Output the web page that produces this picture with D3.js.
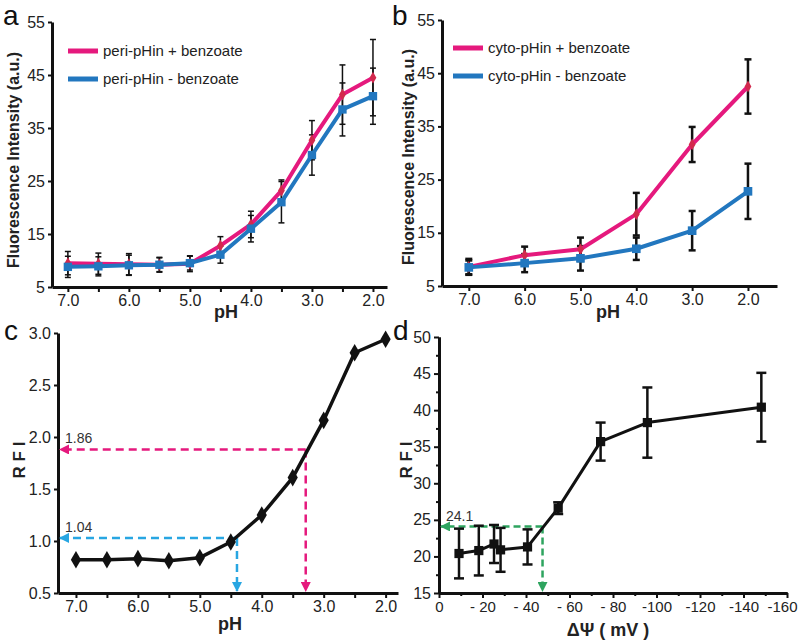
<!DOCTYPE html>
<html>
<head>
<meta charset="utf-8">
<script src="https://cdn.jsdelivr.net/npm/d3@7"></script>
<style>
  body { margin: 0; background: #fff; }
  svg { display: block; font-family: "Liberation Sans", Arial, sans-serif; }
</style>
</head>
<body>
<svg id="fig" width="800" height="642"></svg>
<script>
// ---- data ----
let pHa = [7.0, 6.5, 6.0, 5.5, 5.0, 4.5, 4.0, 3.5, 3.0, 2.5, 2.0];
let periPlus = [9.5, 9.4, 9.3, 9.2, 9.4, 12.8, 16.8, 23.2, 32.7, 41.3, 44.5];
let periPlusErr = [2.2, 2.0, 2.0, 1.4, 1.5, 1.7, 2.5, 2.0, 3.7, 5.6, 7.2];
let periMinus = [8.8, 8.9, 9.1, 9.2, 9.5, 11.1, 16.0, 21.0, 29.9, 38.5, 41.0];
let periMinusErr = [2.0, 1.8, 1.9, 1.3, 1.3, 1.6, 2.5, 3.9, 3.8, 5.0, 5.3];

let pHb = [7.0, 6.0, 5.0, 4.0, 3.0, 2.0];
let cytoPlus = [8.6, 10.8, 11.9, 18.5, 31.6, 42.5];
let cytoPlusErr = [1.5, 1.6, 2.2, 4.0, 3.3, 5.1];
let cytoMinus = [8.5, 9.3, 10.2, 12.0, 15.4, 22.8];
let cytoMinusErr = [1.3, 1.7, 2.3, 2.1, 3.7, 5.2];

let pHc = [7.0, 6.5, 6.0, 5.5, 5.0, 4.5, 4.0, 3.5, 3.0, 2.5, 2.0];
let rfiC = [0.82, 0.82, 0.83, 0.81, 0.84, 0.99, 1.25, 1.61, 2.16, 2.81, 2.94];
let cGuides = [
    { label: '1.86', rfi: 1.88, pH: 3.29, color: '#e5197d' },
    { label: '1.04', rfi: 1.03, pH: 4.40, color: '#28a6e2' }
];

let dPsi = [-9.2, -18.3, -25.3, -28.3, -40.7, -54.8, -74.3, -95.8, -148.2];
let rfiD = [20.4, 20.8, 21.7, 20.9, 21.3, 26.6, 35.7, 38.3, 40.4];
let rfiDErr = [3.4, 3.4, 2.6, 3.0, 2.4, 0.8, 2.6, 4.8, 4.7];
let dGuide = { label: '24.1', rfi: 24.1, psi: -47.6, color: '#2ea45f' };

let pink = '#e5197d';
let blue = '#2277bf';

let svg = d3.select('#fig');

let defs = svg.append('defs');
let addArrow = (id, color) => {
    defs.append('marker')
        .attr('id', id)
        .attr('viewBox', '0 0 10 10')
        .attr('refX', 9).attr('refY', 5)
        .attr('markerWidth', 4).attr('markerHeight', 4)
        .attr('orient', 'auto')
        .append('path')
        .attr('d', 'M0,0 L10,5 L0,10 z')
        .attr('fill', color);
};
addArrow('arPink', '#e5197d');
addArrow('arCyan', '#28a6e2');
addArrow('arGreen', '#2ea45f');

let styleAxis = (g) => {
    g.select('.domain').attr('stroke', '#111').attr('stroke-width', 3);
    g.selectAll('.tick line').attr('stroke', '#111').attr('stroke-width', 2);
    g.selectAll('.tick text').attr('fill', '#222').style('font-size', '16px');
};

let errorBars = (g, xs, ys, es, x, y, width, cap) => {
    let bars = g.append('g');
    xs.forEach((xv, i) => {
        let cx = x(xv);
        bars.append('line')
            .attr('x1', cx).attr('x2', cx)
            .attr('y1', y(ys[i] - es[i])).attr('y2', y(ys[i] + es[i]))
            .attr('stroke', '#111').attr('stroke-width', width);
        [ys[i] - es[i], ys[i] + es[i]].forEach((v) => {
            bars.append('line')
                .attr('x1', cx - cap).attr('x2', cx + cap)
                .attr('y1', y(v)).attr('y2', y(v))
                .attr('stroke', '#111').attr('stroke-width', width);
        });
    });
};

let drawSeries = (g, xs, ys, x, y, color, width, symbol, size, fill) => {
    let pts = xs.map((xv, i) => [x(xv), y(ys[i])]);
    g.append('path')
        .attr('d', d3.line()(pts))
        .attr('fill', 'none')
        .attr('stroke', color)
        .attr('stroke-width', width)
        .attr('stroke-linejoin', 'round');
    g.selectAll(null)
        .data(pts)
        .enter()
        .append('path')
        .attr('d', d3.symbol().type(symbol).size(size))
        .attr('transform', (p) => `translate(${p[0]},${p[1]})`)
        .attr('fill', fill);
};

let panelLabel = (txt, px, py) => {
    svg.append('text').text(txt)
        .attr('x', px).attr('y', py)
        .style('font-size', '28px').attr('fill', '#111');
};

let yTitle = (txt, cx, cy, size) => {
    svg.append('text').text(txt)
        .attr('transform', `translate(${cx},${cy}) rotate(-90)`)
        .attr('text-anchor', 'middle')
        .attr('dominant-baseline', 'central')
        .style('font-size', size + 'px')
        .style('font-weight', 'bold')
        .attr('fill', '#222');
};

let xTitle = (txt, cx, by) => {
    svg.append('text').text(txt)
        .attr('x', cx).attr('y', by)
        .attr('text-anchor', 'middle')
        .style('font-size', '18px')
        .style('font-weight', 'bold')
        .attr('fill', '#222');
};

let legend = (g, items, lx, ly) => {
    items.forEach((it, i) => {
        let yy = ly + i * 28;
        g.append('line')
            .attr('x1', lx).attr('x2', lx + 30)
            .attr('y1', yy).attr('y2', yy)
            .attr('stroke', it.color).attr('stroke-width', 5);
        g.append('text').text(it.name)
            .attr('x', lx + 35).attr('y', yy + 5)
            .style('font-size', '15px').attr('fill', '#222');
    });
};

let pHFormat = (d) => (Math.abs(d - Math.round(d)) < 0.01 ? d.toFixed(1) : '');

// ---- panel a ----
let drawA = () => {
    let g = svg.append('g');
    let x = d3.scaleLinear().domain([7.26, 1.77]).range([52, 387]);
    let y = d3.scaleLinear().domain([5, 55]).range([287, 22]);

    g.append('g').attr('transform', 'translate(0,287)')
        .call(d3.axisBottom(x).tickValues(d3.range(7.0, 1.99, -0.5)).tickFormat(pHFormat)
            .tickSize(5).tickSizeOuter(0).tickPadding(3))
        .call(styleAxis);
    g.append('g').attr('transform', 'translate(52,0)')
        .call(d3.axisLeft(y).tickValues([5, 15, 25, 35, 45, 55]).tickSize(4).tickSizeOuter(0).tickPadding(3))
        .call(styleAxis);

    errorBars(g, pHa, periPlus, periPlusErr, x, y, 1.5, 3);
    errorBars(g, pHa, periMinus, periMinusErr, x, y, 1.5, 3);
    drawSeries(g, pHa, periPlus, x, y, pink, 4, d3.symbolDiamond, 40, '#d2294d');
    drawSeries(g, pHa, periMinus, x, y, blue, 4, d3.symbolSquare, 70, blue);

    legend(g, [
        { name: 'peri-pHin + benzoate', color: pink },
        { name: 'peri-pHin - benzoate', color: blue }
    ], 68, 51);

    panelLabel('a', 3, 25);
    yTitle('Fluorescence Intensity (a.u.)', 13, 160, 16);
    xTitle('pH', 226, 318);
};

// ---- panel b ----
let drawB = () => {
    let g = svg.append('g');
    let x = d3.scaleLinear().domain([7.48, 1.48]).range([442, 777]);
    let y = d3.scaleLinear().domain([5, 55]).range([286, 20]);

    g.append('g').attr('transform', 'translate(0,286)')
        .call(d3.axisBottom(x).tickValues(pHb).tickFormat((d) => d.toFixed(1))
            .tickSize(5).tickSizeOuter(0).tickPadding(3))
        .call(styleAxis);
    g.append('g').attr('transform', 'translate(442,0)')
        .call(d3.axisLeft(y).tickValues([5, 15, 25, 35, 45, 55]).tickSize(4).tickSizeOuter(0).tickPadding(3))
        .call(styleAxis);

    errorBars(g, pHb, cytoPlus, cytoPlusErr, x, y, 2.5, 3.5);
    errorBars(g, pHb, cytoMinus, cytoMinusErr, x, y, 2.5, 3.5);
    drawSeries(g, pHb, cytoPlus, x, y, pink, 4, d3.symbolDiamond, 40, '#d2294d');
    drawSeries(g, pHb, cytoMinus, x, y, blue, 4, d3.symbolSquare, 75, blue);

    legend(g, [
        { name: 'cyto-pHin + benzoate', color: pink },
        { name: 'cyto-pHin - benzoate', color: blue }
    ], 453, 48);

    panelLabel('b', 392, 25);
    yTitle('Fluorescence Intensity (a.u.)', 408, 157, 16);
    xTitle('pH', 608, 318);
};

// ---- panel c ----
let drawC = () => {
    let g = svg.append('g');
    let x = d3.scaleLinear().domain([7.29, 1.8]).range([58, 398]);
    let y = d3.scaleLinear().domain([0.5, 3.0]).range([593, 333]);

    g.append('g').attr('transform', 'translate(0,593)')
        .call(d3.axisBottom(x).tickValues(pHc).tickFormat(pHFormat)
            .tickSize(5).tickSizeOuter(0).tickPadding(3))
        .call(styleAxis);
    g.append('g').attr('transform', 'translate(58,0)')
        .call(d3.axisLeft(y).tickValues([0.5, 1.0, 1.5, 2.0, 2.5, 3.0]).tickFormat(d3.format('.1f'))
            .tickSize(4).tickSizeOuter(0).tickPadding(3))
        .call(styleAxis);

    cGuides.forEach((gd, i) => {
        let px = x(gd.pH), py = y(gd.rfi);
        let mk = i === 0 ? 'url(#arPink)' : 'url(#arCyan)';
        g.append('line')
            .attr('x1', px).attr('y1', py).attr('x2', 60).attr('y2', py)
            .attr('stroke', gd.color).attr('stroke-width', 2.5)
            .attr('stroke-dasharray', '8,5').attr('marker-end', mk);
        g.append('line')
            .attr('x1', px).attr('y1', py).attr('x2', px).attr('y2', 591)
            .attr('stroke', gd.color).attr('stroke-width', 2.5)
            .attr('stroke-dasharray', '8,5').attr('marker-end', mk);
        g.append('text').text(gd.label)
            .attr('x', 65).attr('y', py - 6)
            .style('font-size', '14px').attr('fill', '#333');
    });

    drawSeries(g, pHc, rfiC, x, y, '#111', 3.5, d3.symbolDiamond, 90, '#111');

    panelLabel('c', 4, 340);
    yTitle('R F I', 19, 460, 17);
    xTitle('pH', 230, 630);
};

// ---- panel d ----
let drawD = () => {
    let g = svg.append('g');
    let x = d3.scaleLinear().domain([0, -160]).range([439, 787]);
    let y = d3.scaleLinear().domain([15, 50]).range([593, 337]);

    let psiFormat = (d) => (d === 0 ? '0' : (d > -100 ? '- ' + Math.abs(d) : '-' + Math.abs(d)));

    g.append('g').attr('transform', 'translate(0,593)')
        .call(d3.axisBottom(x).tickValues(d3.range(-10, -160, -20)).tickFormat('').tickSize(3).tickSizeOuter(0))
        .call(styleAxis);
    let xa = g.append('g').attr('transform', 'translate(0,593)')
        .call(d3.axisBottom(x).tickValues(d3.range(0, -161, -20)).tickFormat(psiFormat)
            .tickSize(5).tickSizeOuter(0).tickPadding(3))
        .call(styleAxis);
    xa.selectAll('.tick text').style('font-size', '15px');
    xa.selectAll('.tick:last-of-type text').attr('dx', -5);
    g.append('g').attr('transform', 'translate(439,0)')
        .call(d3.axisLeft(y).tickValues(d3.range(17.5, 50, 5)).tickFormat('').tickSize(3).tickSizeOuter(0))
        .call(styleAxis);
    g.append('g').attr('transform', 'translate(439,0)')
        .call(d3.axisLeft(y).tickValues(d3.range(15, 51, 5)).tickSize(5).tickSizeOuter(0).tickPadding(3))
        .call(styleAxis);

    let px = x(dGuide.psi), py = y(dGuide.rfi);
    g.append('line')
        .attr('x1', px).attr('y1', py).attr('x2', 441).attr('y2', py)
        .attr('stroke', dGuide.color).attr('stroke-width', 2.5)
        .attr('stroke-dasharray', '7,4').attr('marker-end', 'url(#arGreen)');
    g.append('line')
        .attr('x1', px).attr('y1', py).attr('x2', px).attr('y2', 591)
        .attr('stroke', dGuide.color).attr('stroke-width', 2.5)
        .attr('stroke-dasharray', '7,4').attr('marker-end', 'url(#arGreen)');
    g.append('text').text(dGuide.label)
        .attr('x', 446).attr('y', py - 5)
        .style('font-size', '14px').attr('fill', '#333');

    errorBars(g, dPsi, rfiD, rfiDErr, x, y, 2.5, 5);
    drawSeries(g, dPsi, rfiD, x, y, '#111', 3, d3.symbolSquare, 85, '#111');

    panelLabel('d', 393, 340);
    yTitle('R F I', 406, 460, 17);
    xTitle('ΔΨ ( mV )', 608, 636);
};

drawA();
drawB();
drawC();
drawD();
</script>
</body>
</html>
